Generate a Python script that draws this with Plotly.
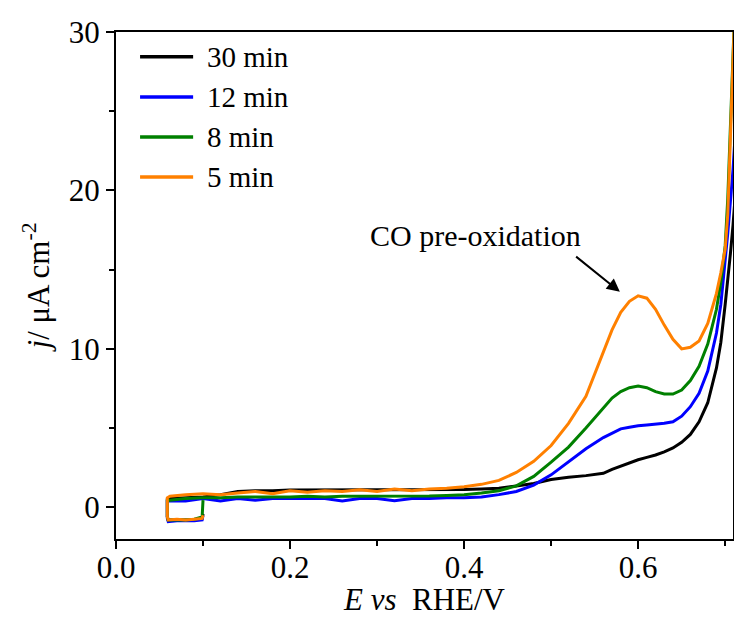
import plotly.graph_objects as go

# ---------------- data ----------------
series_names = ["30 min", "12 min", "8 min", "5 min"]
series_colors = ["#000000", "#0000FF", "#008000", "#FF8000"]

# short cathodic loop at the start of the sweep
E_loop = [0.100, 0.099, 0.09, 0.08, 0.07, 0.06, 0.059, 0.059]
loop_30 = [-0.4, -0.7, -0.8, -0.8, -0.8, -0.8, -0.6, 0.5]
loop_12 = [-0.5, -0.8, -0.85, -0.85, -0.85, -0.9, -0.7, 0.4]
loop_8 = [0.45, -0.6, -0.75, -0.8, -0.8, -0.8, -0.6, 0.4]
loop_5 = [-0.5, -0.7, -0.75, -0.8, -0.75, -0.8, -0.6, 0.6]

# anodic sweep
E_sweep = [0.062, 0.08, 0.10, 0.12, 0.14, 0.16, 0.18, 0.20, 0.22, 0.24,
           0.26, 0.28, 0.30, 0.32, 0.34, 0.36, 0.38, 0.40, 0.42, 0.44,
           0.46, 0.48, 0.50, 0.52, 0.54, 0.56, 0.57, 0.58, 0.59, 0.60,
           0.61, 0.62, 0.63, 0.64, 0.65, 0.66, 0.67, 0.68, 0.69, 0.695,
           0.70, 0.703, 0.706, 0.709, 0.712]

j_30 = [0.55, 0.6, 0.65, 0.8, 1.0, 1.05, 1.05, 1.1, 1.1, 1.1,
        1.1, 1.1, 1.1, 1.1, 1.1, 1.1, 1.1, 1.12, 1.15, 1.2,
        1.35, 1.5, 1.75, 1.9, 2.0, 2.15, 2.4, 2.6, 2.85, 3.0,
        3.15, 3.3, 3.5, 3.75, 4.1, 4.6, 5.4, 6.6, 8.8, 10.4,
        12.8, 14.3, 16.0, 17.8, 20.0]

j_12 = [0.4, 0.4, 0.55, 0.4, 0.55, 0.45, 0.55, 0.55, 0.55, 0.55,
        0.4, 0.55, 0.55, 0.42, 0.55, 0.55, 0.6, 0.6, 0.65, 0.8,
        1.0, 1.4, 2.05, 2.85, 3.7, 4.4, 4.7, 4.95, 5.05, 5.15,
        5.2, 5.25, 5.3, 5.4, 5.75, 6.35, 7.2, 8.6, 11.0, 12.8,
        15.5, 17.3, 19.3, 21.3, 24.0]

j_8 = [0.45, 0.55, 0.6, 0.6, 0.65, 0.65, 0.65, 0.65, 0.7, 0.65,
       0.7, 0.7, 0.7, 0.7, 0.7, 0.72, 0.75, 0.8, 0.9, 1.05,
       1.35, 1.95, 2.85, 3.8, 5.0, 6.3, 6.9, 7.3, 7.55, 7.65,
       7.55, 7.3, 7.15, 7.15, 7.4, 8.0, 8.9, 10.3, 12.5, 14.2,
       16.5, 19.5, 24.0, 29.0, 33.0]

j_5 = [0.7, 0.8, 0.85, 0.8, 0.9, 1.0, 0.85, 1.05, 0.95, 1.05,
       1.0, 1.1, 1.0, 1.15, 1.05, 1.15, 1.2, 1.3, 1.45, 1.7,
       2.2, 2.9, 3.9, 5.3, 7.0, 9.8, 11.2, 12.3, 13.0, 13.35,
       13.2, 12.5, 11.5, 10.6, 10.0, 10.1, 10.5, 11.6, 13.5, 14.8,
       16.3, 18.5, 23.0, 28.5, 33.0]

series_loops = [loop_30, loop_12, loop_8, loop_5]
series_sweeps = [j_30, j_12, j_8, j_5]

x_ticks = [0.0, 0.2, 0.4, 0.6]
y_ticks = [0, 10, 20, 30]

FONT = "Liberation Serif"

fig = go.Figure()
for name, color, lp, sw in zip(series_names, series_colors, series_loops, series_sweeps):
    fig.add_trace(go.Scatter(
        x=E_loop + E_sweep, y=lp + sw, mode="lines", name=name,
        line=dict(color=color, width=3), showlegend=False))

# manual legend (paper coordinates)
leg_y = [0.951, 0.872, 0.793, 0.714]
for name, color, yy in zip(series_names, series_colors, leg_y):
    fig.add_shape(type="line", xref="paper", yref="paper",
                  x0=0.039, x1=0.125, y0=yy, y1=yy,
                  line=dict(color=color, width=3.5))
    fig.add_annotation(xref="paper", yref="paper", x=0.145, y=yy,
                       text=name, showarrow=False, xanchor="left", yanchor="middle",
                       font=dict(family=FONT, size=29, color="black"))

# CO pre-oxidation label and arrow
fig.add_annotation(x=0.413, y=17.15, xref="x", yref="y", text="CO pre-oxidation",
                   showarrow=False, font=dict(family=FONT, size=30, color="black"))
fig.add_annotation(x=0.579, y=13.6, ax=0.527, ay=15.9, xref="x", yref="y",
                   axref="x", ayref="y", text="", showarrow=True,
                   arrowhead=2, arrowsize=1.3, arrowwidth=2, arrowcolor="black")

axis_common = dict(showline=True, linecolor="black", linewidth=2, mirror=True,
                   ticks="outside", ticklen=8, tickwidth=2, tickcolor="black",
                   showgrid=False, zeroline=False,
                   tickfont=dict(family=FONT, size=31, color="black"))

fig.update_xaxes(range=[0, 0.709], tickvals=x_ticks, tickformat=".1f",
                 ticklabelstandoff=-8,
                 minor=dict(ticks="outside", ticklen=5, tickwidth=2, tickcolor="black",
                            tick0=0.1, dtick=0.2),
                 title=dict(text="<i>E vs</i>\u00a0\u00a0RHE/V",
                            font=dict(family=FONT, size=31, color="black"), standoff=4),
                 **axis_common)
fig.update_yaxes(range=[-2, 30], tickvals=y_ticks,
                 minor=dict(ticks="outside", ticklen=5, tickwidth=2, tickcolor="black",
                            tick0=5, dtick=10),
                 title=dict(text="<i>j</i>/ μA cm<sup>-2</sup>",
                            font=dict(family=FONT, size=31, color="black"), standoff=10),
                 **axis_common)

fig.update_layout(width=734, height=617,
                  margin=dict(l=116, r=1, t=32, b=78, autoexpand=False),
                  plot_bgcolor="white", paper_bgcolor="white", showlegend=False)

# remove the default page margin so the figure fills the window exactly
page_js = ("document.body.style.margin='0';"
           "document.body.style.overflow='hidden';"
           "document.documentElement.style.overflow='hidden';")
fig.write_html("out.html", post_script=page_js, config={"displayModeBar": False})
